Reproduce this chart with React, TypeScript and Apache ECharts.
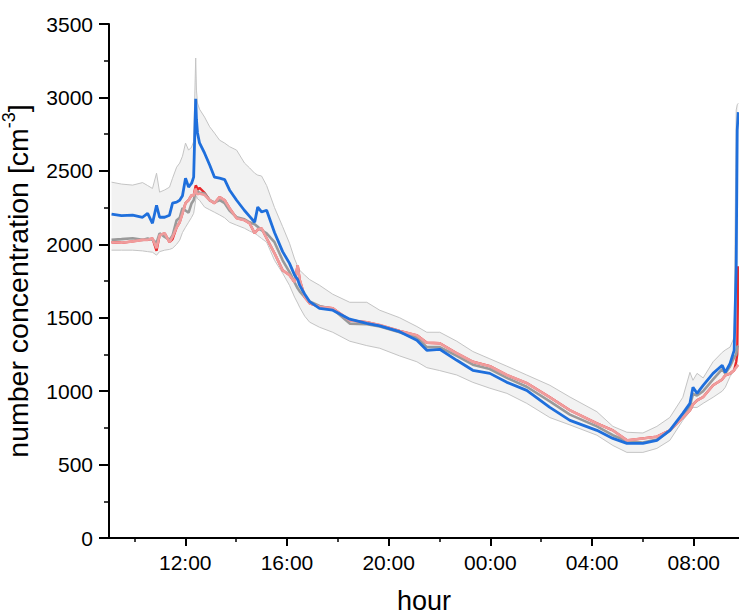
import React, { useEffect, useRef } from "react";
import * as echarts from "echarts";

// hours of day, continuing past midnight (24 = 00:00, 32 = 08:00)
const times = [9.10, 9.49, 9.93, 10.32, 10.52, 10.71, 10.87, 10.99, 11.19, 11.38, 11.50, 11.66, 11.78, 11.89, 12.01, 12.13, 12.25, 12.33, 12.41, 12.44, 12.48, 12.56, 12.76, 12.96, 13.15, 13.35, 13.55, 13.74, 14.02, 14.33, 14.53, 14.73, 14.85, 15.00, 15.20, 15.51, 15.83, 16.10, 16.30, 16.42, 16.50, 16.70, 16.89, 17.28, 17.80, 18.47, 19.14, 19.65, 20.43, 21.11, 21.50, 22.01, 22.68, 23.31, 23.98, 24.65, 25.43, 26.34, 27.13, 28.19, 28.82, 29.37, 30.00, 30.55, 31.06, 31.57, 31.85, 31.97, 32.13, 32.37, 32.76, 33.12, 33.24, 33.43, 33.59, 33.67, 33.71, 33.75];

const blue = [2205, 2195, 2198, 2184, 2211, 2143, 2266, 2184, 2184, 2198, 2280, 2287, 2300, 2330, 2450, 2390, 2416, 2457, 2990, 2850, 2760, 2690, 2620, 2540, 2457, 2450, 2440, 2370, 2300, 2230, 2190, 2150, 2253, 2220, 2232, 2080, 1950, 1870, 1790, 1760, 1720, 1660, 1610, 1564, 1551, 1490, 1462, 1445, 1405, 1346, 1278, 1285, 1210, 1142, 1121, 1060, 1005, 889, 801, 733, 678, 644, 644, 665, 733, 849, 917, 1026, 985, 1039, 1121, 1176, 1128, 1189, 1278, 1844, 2778, 2900];

const gray = [2030, 2035, 2041, 2030, 2040, 2030, 2010, 2075, 2050, 2030, 2060, 2164, 2180, 2246, 2230, 2215, 2280, 2300, 2360, 2350, 2360, 2350, 2345, 2300, 2285, 2300, 2280, 2230, 2184, 2170, 2150, 2136, 2120, 2096, 2075, 2014, 1891, 1810, 1740, 1700, 1680, 1640, 1610, 1580, 1560, 1460, 1455, 1440, 1401, 1365, 1300, 1300, 1240, 1180, 1150, 1090, 1030, 930, 840, 760, 700, 660, 650, 670, 730, 830, 900, 980, 970, 1000, 1080, 1150, 1120, 1170, 1230, 1250, 1300, 1310];

const pink = [2014, 2010, 2020, 2030, 2030, 2041, 1973, 2062, 2075, 2014, 2050, 2116, 2150, 2211, 2280, 2300, 2335, 2330, 2380, 2350, 2340, 2345, 2335, 2300, 2280, 2321, 2300, 2246, 2178, 2164, 2143, 2075, 2100, 2109, 2041, 1939, 1823, 1790, 1741, 1857, 1760, 1640, 1598, 1575, 1564, 1482, 1469, 1450, 1410, 1380, 1330, 1326, 1258, 1200, 1170, 1110, 1055, 958, 870, 780, 733, 665, 678, 690, 733, 821, 870, 910, 937, 960, 1040, 1080, 1108, 1120, 1142, 1162, 1170, 1180];

const red = [2014, 2010, 2020, 2030, 2030, 2041, 1955, 2062, 2075, 2014, 2035, 2116, 2150, 2211, 2280, 2300, 2335, 2330, 2400, 2395, 2370, 2385, 2350, 2300, 2280, 2321, 2300, 2246, 2178, 2164, 2143, 2075, 2100, 2109, 2041, 1939, 1823, 1790, 1741, 1857, 1760, 1640, 1598, 1575, 1564, 1482, 1469, 1450, 1410, 1380, 1330, 1326, 1258, 1200, 1170, 1110, 1055, 958, 870, 780, 733, 665, 678, 690, 733, 821, 870, 910, 937, 960, 1040, 1080, 1108, 1120, 1142, 1200, 1250, 1850];

const bandUpper = [2423, 2410, 2403, 2420, 2400, 2380, 2484, 2355, 2370, 2389, 2450, 2525, 2553, 2600, 2689, 2641, 2662, 2700, 3268, 3050, 2962, 2920, 2866, 2800, 2757, 2709, 2689, 2665, 2641, 2553, 2520, 2484, 2471, 2465, 2400, 2250, 2120, 2007, 1900, 1850, 1823, 1790, 1760, 1721, 1660, 1605, 1605, 1551, 1500, 1440, 1401, 1401, 1340, 1270, 1220, 1170, 1110, 1040, 960, 860, 760, 720, 715, 760, 821, 958, 1128, 1074, 1121, 1090, 1200, 1264, 1280, 1300, 1367, 2914, 2950, 2960];

const bandLower = [1960, 1960, 1960, 1955, 1950, 1946, 1926, 1950, 1960, 1965, 1973, 2000, 2028, 2080, 2116, 2150, 2184, 2211, 2300, 2330, 2310, 2300, 2253, 2235, 2218, 2200, 2180, 2150, 2130, 2109, 2090, 2075, 2060, 2040, 2014, 1891, 1803, 1720, 1640, 1600, 1571, 1510, 1470, 1435, 1401, 1340, 1310, 1292, 1240, 1200, 1160, 1140, 1110, 1060, 1020, 985, 917, 820, 770, 700, 630, 583, 583, 610, 665, 801, 860, 889, 889, 917, 958, 1000, 1026, 1100, 1142, 1150, 1160, 1170];

const majorHours = [12, 16, 20, 24, 28, 32];
const minorHours = [10, 14, 18, 22, 26, 30];
const xMin = 9;
const xMax = 33.78;

const FONT = "'Liberation Sans', Arial, Helvetica, sans-serif";

function pairs(vals: number[]) {
  return times.map((t, i) => [t, vals[i]]);
}

export default function App() {
  const ref = useRef<HTMLDivElement>(null);
  useEffect(() => {
    if (!ref.current) return;
    const chart = echarts.init(ref.current, undefined, { renderer: "svg" });
    const lineBase = { type: "line", symbol: "none", showSymbol: false, silent: true, xAxisIndex: 0, yAxisIndex: 0 };
    const option: any = {
      animation: false,
      textStyle: { fontFamily: FONT },
      grid: { left: 109, right: 0, top: 24, bottom: 76, containLabel: false, outerBoundsMode: "none" },
      xAxis: [
        {
          type: "value",
          min: xMin,
          max: xMax,
          axisLine: { show: true, onZero: false, lineStyle: { color: "#000", width: 2 } },
          axisTick: { show: true, customValues: majorHours, length: 8, lineStyle: { color: "#000", width: 2 } },
          axisLabel: {
            customValues: majorHours,
            formatter: (v: number) => String(Math.round(v) % 24).padStart(2, "0") + ":00",
            fontSize: 21,
            color: "#000",
            margin: 14,
            fontFamily: FONT,
          },
          splitLine: { show: false },
          name: "hour",
          nameLocation: "middle",
          nameGap: 49,
          nameTextStyle: { fontSize: 27, color: "#000", fontFamily: FONT },
        },
        {
          type: "value",
          min: xMin,
          max: xMax,
          position: "bottom",
          axisLine: { show: false, onZero: false },
          axisTick: { show: true, customValues: minorHours, length: 4, lineStyle: { color: "#000", width: 1.5 } },
          axisLabel: { show: false },
          splitLine: { show: false },
        },
      ],
      yAxis: {
        type: "value",
        min: 0,
        max: 3500,
        interval: 500,
        axisLine: { show: true, onZero: false, lineStyle: { color: "#000", width: 2 } },
        axisTick: { show: true, length: 10, lineStyle: { color: "#000", width: 2 } },
        minorTick: { show: true, splitNumber: 2, length: 5, lineStyle: { color: "#000", width: 1.5 } },
        axisLabel: { fontSize: 21, color: "#000", margin: 16, fontFamily: FONT, formatter: (v: number) => String(v) },
        splitLine: { show: false },
        minorSplitLine: { show: false },
        name: "number concentration [cm{s|-3}]",
        nameLocation: "middle",
        nameRotate: 90,
        nameGap: 57,
        nameTextStyle: {
          fontSize: 28.5,
          color: "#000",
          fontFamily: FONT,
          lineHeight: 35,
          rich: { s: { fontSize: 18, color: "#000", fontFamily: FONT, verticalAlign: "top", lineHeight: 18 } },
        },
      },
      series: [
        {
          type: "custom",
          name: "band",
          silent: true,
          xAxisIndex: 0,
          yAxisIndex: 0,
          data: [[times[0], bandLower[0]]],
          encode: { x: 0, y: 1 },
          renderItem: (_params: any, api: any) => {
            const pts: number[][] = [];
            for (let i = 0; i < times.length; i++) pts.push(api.coord([times[i], bandUpper[i]]));
            for (let i = times.length - 1; i >= 0; i--) pts.push(api.coord([times[i], bandLower[i]]));
            return { type: "polygon", shape: { points: pts }, style: { fill: "#f2f2f2", stroke: "none" } };
          },
        },
        { ...lineBase, name: "bandUpperEdge", data: pairs(bandUpper), lineStyle: { color: "#c4c4c4", width: 1 } },
        { ...lineBase, name: "bandLowerEdge", data: pairs(bandLower), lineStyle: { color: "#c4c4c4", width: 1 } },
        { ...lineBase, name: "red", data: pairs(red), lineStyle: { color: "#e8282c", width: 2.4 } },
        { ...lineBase, name: "gray", data: pairs(gray), lineStyle: { color: "#9a9a9a", width: 2.6 } },
        { ...lineBase, name: "pink", data: pairs(pink), lineStyle: { color: "#f09c9c", width: 2.6 } },
        { ...lineBase, name: "blue", data: pairs(blue), lineStyle: { color: "#1f6fdc", width: 2.8 } },
      ],
    };
    chart.setOption(option);
    return () => chart.dispose();
  }, []);
  return <div ref={ref} style={{ position: "absolute", left: 0, top: 0, width: 739, height: 614 }} />;
}
